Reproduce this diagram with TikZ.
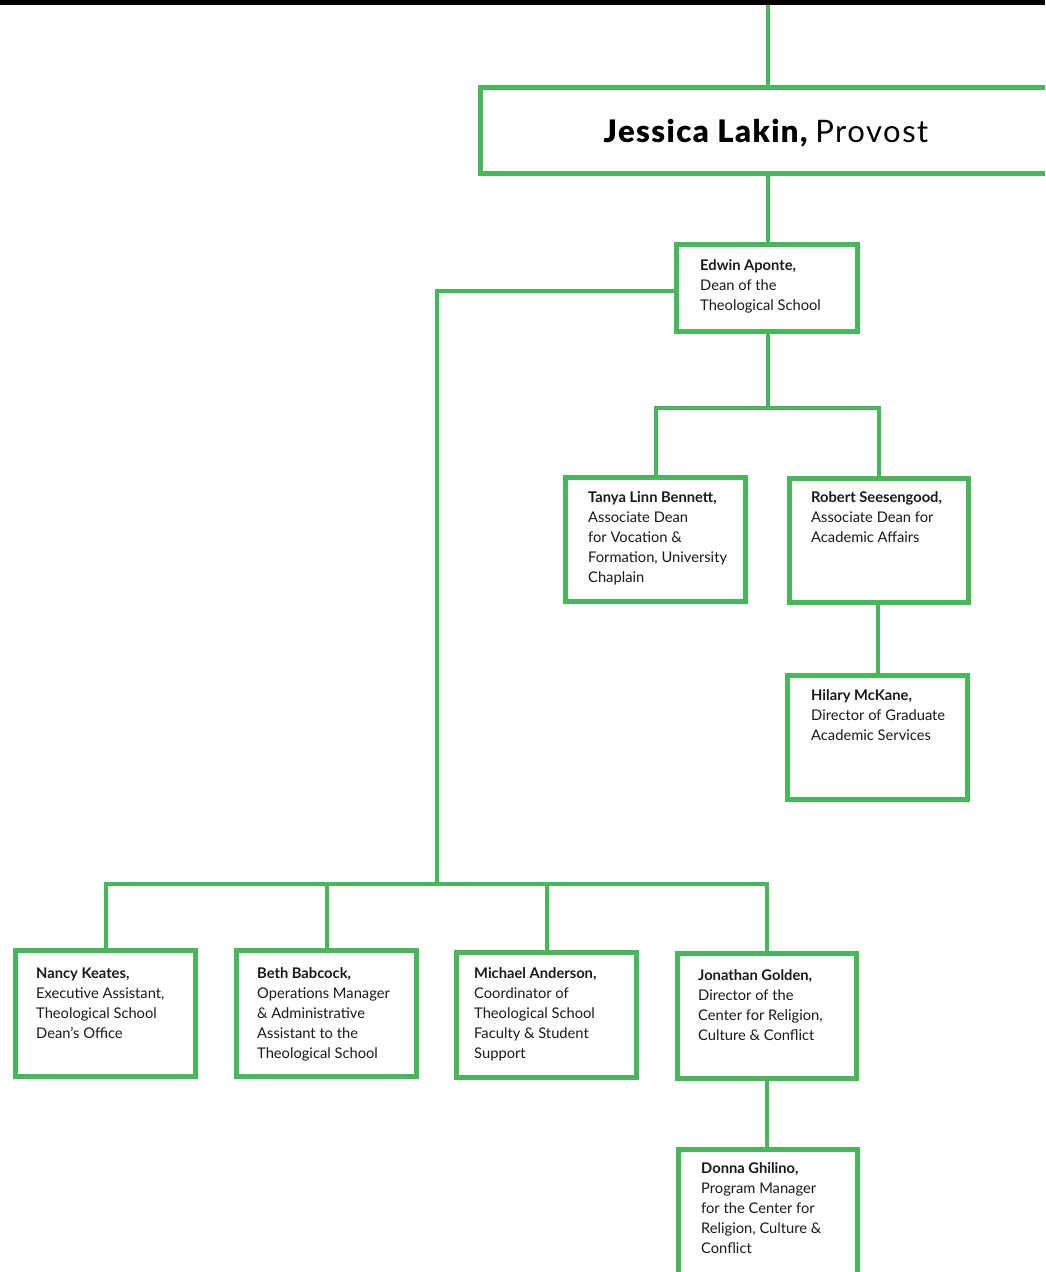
\documentclass[tikz,border=0pt]{standalone}
\usepackage{fontspec}
\setmainfont{Lato}
\newfontfamily\heavyfont{Lato Black}[LetterSpace=4.5]
\newfontfamily\provfont{Lato}[LetterSpace=5]
\definecolor{orggreen}{HTML}{47B85A}
\definecolor{txtblack}{HTML}{1A1A1A}
\tikzset{
  box/.style={draw=orggreen, line width=5pt, inner sep=0pt, fill=white},
  conn/.style={draw=orggreen, line width=4pt},
  txt/.style={anchor=base west, inner sep=0pt, text=txtblack, font=\fontsize{14.7}{20}\selectfont},
}
\newcommand{\lines}[1]{\begin{tabular}[t]{@{}l@{}}#1\end{tabular}}
\begin{document}
\begin{tikzpicture}[x=1pt, y=-1pt]
\clip (0,0) rectangle (1045,1272);
\fill[white] (0,0) rectangle (1045,1272);
\fill[black] (0,0) rectangle (1045,5);
% boxes
\node[box, minimum width=579.5pt, minimum height=86pt] (provost) at (770.25,130.5) {};
\node[box, minimum width=181pt, minimum height=87pt] (edwin) at (767,288) {};
\node[box, minimum width=180pt, minimum height=124pt] (tanya) at (655.5,539.5) {};
\node[box, minimum width=179pt, minimum height=124pt] (robert) at (879,540.5) {};
\node[box, minimum width=180pt, minimum height=124pt] (hilary) at (877.5,737.5) {};
\node[box, minimum width=180pt, minimum height=126pt] (nancy) at (105.5,1013.5) {};
\node[box, minimum width=180pt, minimum height=126pt] (beth) at (326.5,1013.5) {};
\node[box, minimum width=180pt, minimum height=125pt] (michael) at (546.5,1015) {};
\node[box, minimum width=179pt, minimum height=125pt] (jonathan) at (767,1016) {};
\node[box, minimum width=179pt, minimum height=140pt] (donna) at (768,1219.5) {};
% connector coordinates
\coordinate (topend) at (768,5);
\coordinate (bus1) at (768,408);
\coordinate (bus2) at (437,884);
% connectors
\draw[conn] (topend) -- (topend |- provost.north);
\draw[conn] (edwin.north -| topend) -- (provost.south -| topend);
\draw[conn] (edwin.south -| bus1) -- (bus1);
\draw[conn] (tanya.north) |- (bus1) -| (robert.north);
\draw[conn] (robert.south -| hilary.north) -- (hilary.north);
\draw[conn] ([yshift=-3pt]edwin.west) -| (bus2);
\draw[conn] (nancy.north) |- (bus2) -| (jonathan.north);
\draw[conn] (beth.north) -- (beth.north |- bus2);
\draw[conn] (michael.north) -- (michael.north |- bus2);
\draw[conn] (jonathan.south) -- (jonathan.south |- donna.north);
% texts
\node[anchor=base, inner sep=0pt, text=black, font=\fontsize{31}{34}\selectfont] (provostT) at (766,142) {{\heavyfont Jessica Lakin,} \provfont Provost};
\node[txt] (edwinT) at (700,270) {\lines{\textbf{Edwin Aponte,}\\Dean of the\\Theological School}};
\node[txt] (tanyaT) at (588,502) {\lines{\textbf{Tanya Linn Bennett,}\\Associate Dean\\for Vocation \&\\Formation, University\\Chaplain}};
\node[txt] (robertT) at (811,502) {\lines{\textbf{Robert Seesengood,}\\Associate Dean for\\Academic Affairs}};
\node[txt] (hilaryT) at (811,700) {\lines{\textbf{Hilary McKane,}\\Director of Graduate\\Academic Services}};
\node[txt] (nancyT) at (36,978) {\lines{\textbf{Nancy Keates,}\\Executive Assistant,\\Theological School\\Dean’s Office}};
\node[txt] (bethT) at (257,978) {\lines{\textbf{Beth Babcock,}\\Operations Manager\\\& Administrative\\Assistant to the\\Theological School}};
\node[txt] (michaelT) at (474,978) {\lines{\textbf{Michael Anderson,}\\Coordinator of\\Theological School\\Faculty \& Student\\Support}};
\node[txt] (jonathanT) at (698,980) {\lines{\textbf{Jonathan Golden,}\\Director of the\\Center for Religion,\\Culture \& Conflict}};
\node[txt] (donnaT) at (701,1173) {\lines{\textbf{Donna Ghilino,}\\Program Manager\\for the Center for\\Religion, Culture \&\\Conflict}};
\end{tikzpicture}
\end{document}
